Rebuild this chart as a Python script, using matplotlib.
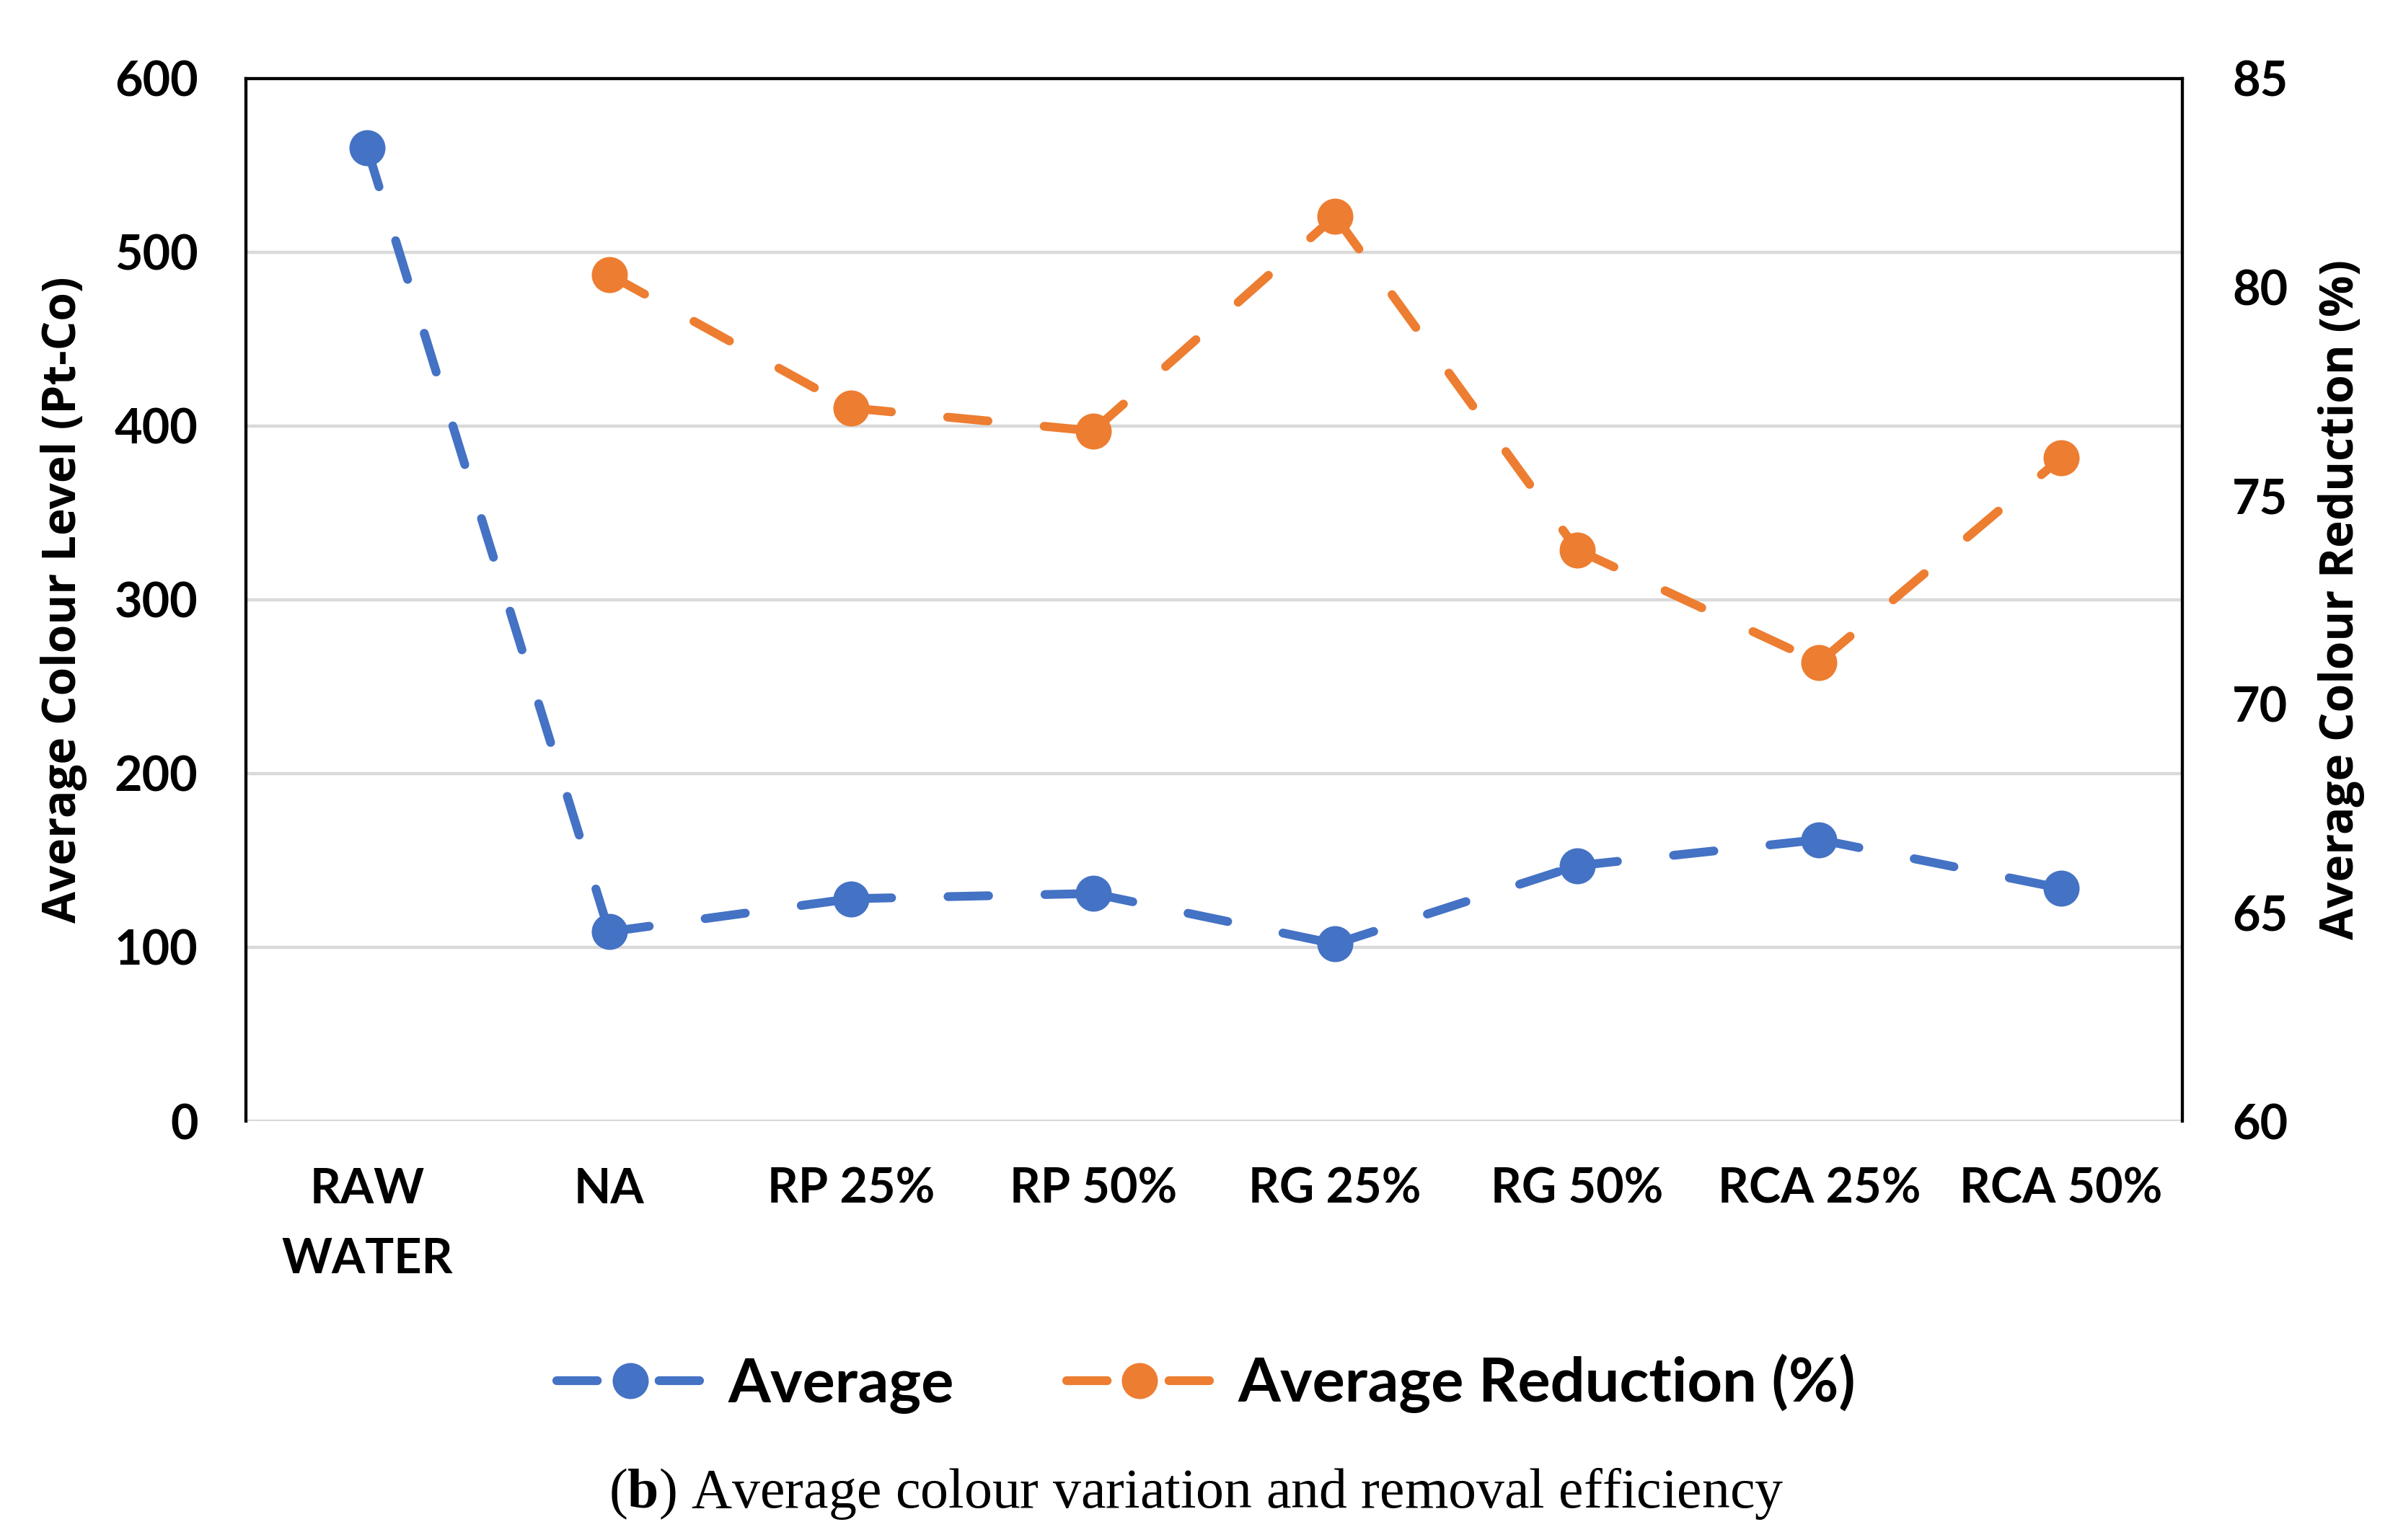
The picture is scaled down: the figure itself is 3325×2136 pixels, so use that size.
import matplotlib
matplotlib.use('Agg')
import matplotlib.pyplot as plt
from matplotlib.lines import Line2D

# data
categories = ['RAW\nWATER', 'NA', 'RP 25%', 'RP 50%', 'RG 25%', 'RG 50%', 'RCA 25%', 'RCA 50%']
average = [560, 109, 128, 131, 102, 147, 162, 134]
reduction_x = [1, 2, 3, 4, 5, 6, 7]
reduction = [80.3, 77.1, 76.55, 81.7, 73.7, 71.0, 75.9]

blue = '#4472C4'
orange = '#ED7D31'
tick_font = ['Lato', 'DejaVu Sans']
label_font = ['Open Sans', 'DejaVu Sans']

plt.rcParams['mathtext.fontset'] = 'custom'
plt.rcParams['mathtext.rm'] = 'Liberation Serif'
plt.rcParams['mathtext.bf'] = 'Liberation Serif:bold'

fig = plt.figure(figsize=(16.625, 10.68), dpi=200)
ax = fig.add_axes([0.1026, 0.272, 0.8074, 0.677])
ax2 = ax.twinx()

lw = 4.4
dash = (4.6, 6.4)
ms = 17

def dashed_segments(axis, xs, ys, color):
    # excel restarts the dash pattern on every segment
    for i in range(len(xs) - 1):
        axis.plot(xs[i:i + 2], ys[i:i + 2], color=color, lw=lw, dashes=dash,
                  dash_capstyle='round', zorder=3)
    axis.plot(xs, ys, 'o', color=color, ms=ms, zorder=4)

dashed_segments(ax, list(range(len(categories))), average, blue)
dashed_segments(ax2, reduction_x, reduction, orange)

ax.set_xlim(-0.5, len(categories) - 0.5)
ax.set_ylim(0, 600)
ax.set_yticks(range(0, 601, 100))
ax2.set_ylim(60, 85)
ax2.set_yticks(range(60, 86, 5))

ax.set_xticks(range(len(categories)))
ax.set_xticklabels(categories, linespacing=1.7)

ax.grid(axis='y', color='#d9d9d9', lw=1.6)
ax.set_axisbelow(True)
ax.tick_params(axis='x', length=0, pad=23)
ax.tick_params(axis='y', length=0, pad=24)
ax2.tick_params(axis='y', length=0, pad=25)
for a in (ax, ax2):
    for lab in a.get_xticklabels() + a.get_yticklabels():
        lab.set_fontfamily(tick_font)
        lab.set_fontweight('bold')
        lab.set_fontsize(24)
    for s in ('left', 'right', 'top'):
        a.spines[s].set_linewidth(1.5)
        a.spines[s].set_color('black')
    a.spines['bottom'].set_visible(False)

ax.set_ylabel('Average Colour Level (Pt-Co)', family=label_font, fontweight='bold',
              fontsize=23)
ax2.set_ylabel('Average Colour Reduction (%)', family=label_font, fontweight='bold',
               fontsize=23, rotation=90)
ax.yaxis.set_label_coords(-0.082, 0.5)
ax2.yaxis.set_label_coords(1.070, 0.5)

handles = [Line2D([0], [0], color=blue, lw=lw, dashes=(4.6, 7.0), dash_capstyle='round',
                  marker='o', ms=ms),
           Line2D([0], [0], color=orange, lw=lw, dashes=(4.6, 7.0), dash_capstyle='round',
                  marker='o', ms=ms)]
fig.legend(handles, ['Average', 'Average Reduction (%)'], loc='center',
           bbox_to_anchor=(0.503, 0.1015), ncol=2, frameon=False,
           handlelength=2.4, handletextpad=0.4, columnspacing=1.84,
           prop={'family': tick_font, 'weight': 'bold', 'size': 30.5})

fig.text(0.499, 0.0304, r'($\mathbf{b}$) Average colour variation and removal efficiency',
         ha='center', va='center', family='Liberation Serif', fontsize=28)

fig.savefig('out.png', dpi=200)
